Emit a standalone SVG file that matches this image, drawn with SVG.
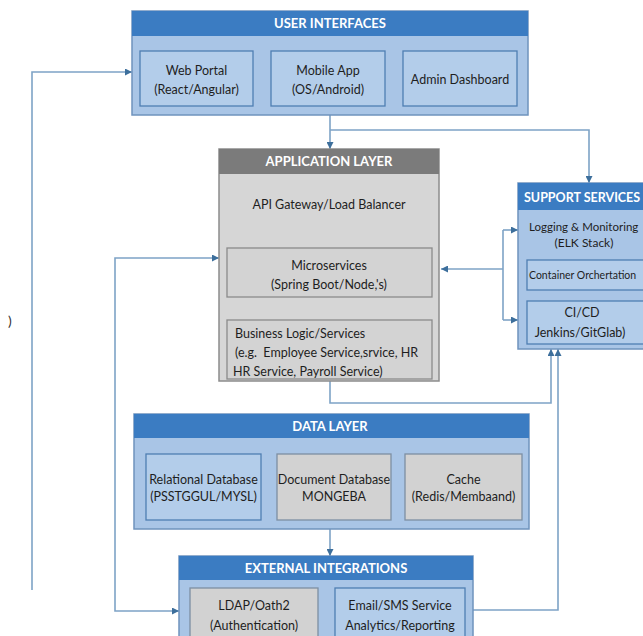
<svg xmlns="http://www.w3.org/2000/svg" width="643" height="636" viewBox="0 0 643 636">
<defs>
<marker id="ah" viewBox="0 0 10 10" refX="10" refY="5" markerWidth="7" markerHeight="7" markerUnits="userSpaceOnUse" orient="auto">
<path d="M0,0 L10,5 L0,10 z" fill="#3d6f9c"/>
</marker>
<style>
.cont{fill:#a9c5e6;stroke:#6f93bd;stroke-width:1.5}
.hdr{fill:#3b7cc2}
.ghdr{fill:#7b7b7b}
.gcont{fill:#d6d6d6;stroke:#8c8c8c;stroke-width:1.5}
.bbox{fill:#b3cdea;stroke:#4f7eb2;stroke-width:1.3}
.gbox{fill:#d2d2d2;stroke:#7d8fa3;stroke-width:1.3}
.gin{fill:#d3d3d3;stroke:#8a8a8a;stroke-width:1.3}
.ht{font-family:Lato,"Open Sans",sans-serif;font-weight:bold;font-size:13px;fill:#ffffff;text-anchor:middle}
.t{font-family:Lato,"Open Sans",sans-serif;font-size:12.5px;fill:#1e1e1e;text-anchor:middle}
.ts{font-family:Lato,"Open Sans",sans-serif;font-size:12.5px;fill:#1e1e1e;text-anchor:start}
.c{fill:none;stroke:#7ea3c6;stroke-width:1.6}
</style>
</defs>
<rect width="643" height="636" fill="#ffffff"/>

<g id="connectors">
<path class="c" d="M32,590 V72 H132" marker-end="url(#ah)"/>
<path class="c" d="M253,79 H271" marker-end="url(#ah)"/>
<path class="c" d="M385,79 H403" marker-end="url(#ah)"/>
<path class="c" d="M330,115 V149" marker-end="url(#ah)"/>
<path class="c" d="M330,130 H589 V183" marker-end="url(#ah)"/>
<path class="c" d="M503,269 H441" marker-end="url(#ah)"/>
<path class="c" d="M503,230 V320"/>
<path class="c" d="M503,230 H518" marker-end="url(#ah)"/>
<path class="c" d="M503,320 H518" marker-end="url(#ah)"/>
<path class="c" d="M115,434 V258 H219" marker-end="url(#ah)"/>
<path class="c" d="M115,434 V611 H179" marker-end="url(#ah)"/>
<path class="c" d="M330,381 V403 H551 V349" marker-end="url(#ah)"/>
<path class="c" d="M473,610 H558 V349" marker-end="url(#ah)"/>
<path class="c" d="M330,529 V556" marker-end="url(#ah)"/>
</g>

<g id="user-interfaces">
<rect class="cont" x="132" y="11" width="396" height="104"/>
<rect class="hdr" x="132" y="11" width="396" height="25"/>
<text class="ht" x="330" y="28">USER INTERFACES</text>
</g>
<g id="web-portal">
<rect class="bbox" x="140" y="51" width="113" height="55"/>
<text class="t" x="196.5" y="75">Web Portal</text>
<text class="t" x="196.5" y="94">(React/Angular)</text>
</g>
<g id="mobile-app">
<rect class="bbox" x="271" y="51" width="114" height="55"/>
<text class="t" x="328" y="75">Mobile App</text>
<text class="t" x="328" y="94">(OS/Android)</text>
</g>
<g id="admin-dashboard">
<rect class="bbox" x="403" y="51" width="114" height="55"/>
<text class="t" x="460" y="84">Admin Dashboard</text>
</g>

<g id="application-layer">
<rect class="gcont" x="219" y="149" width="220" height="232"/>
<rect class="ghdr" x="219" y="149" width="220" height="25"/>
<text class="ht" x="329" y="166">APPLICATION LAYER</text>
<text class="t" x="329" y="209">API Gateway/Load Balancer</text>
</g>
<g id="microservices">
<rect class="gin" x="227" y="248" width="205" height="49"/>
<text class="t" x="329" y="270">Microservices</text>
<text class="t" x="329" y="289">(Spring Boot/Node,'s)</text>
</g>
<g id="business-logic">
<rect class="gin" x="227" y="320" width="205" height="59"/>
<text class="ts" x="235" y="338">Business Logic/Services</text>
<text class="ts" x="235" y="357" xml:space="preserve">(e.g.  Employee Service,srvice, HR</text>
<text class="ts" x="233" y="376">HR Service, Payroll Service)</text>
</g>

<g id="support-services">
<rect class="cont" x="518" y="183" width="140" height="166"/>
<rect class="hdr" x="518" y="183" width="140" height="27"/>
<text class="ht" x="524" y="202" style="text-anchor:start;font-size:12.5px">SUPPORT SERVICES</text>
<text class="ts" x="529" y="231" style="font-size:11.5px">Logging &amp; Monitoring</text>
<text class="t" x="584" y="247" style="font-size:12px">(ELK Stack)</text>
</g>
<g id="container-orchestration">
<rect class="bbox" x="527" y="260" width="130" height="30"/>
<text class="ts" x="529" y="279" style="font-size:10.5px">Container Orchertation</text>
</g>
<g id="cicd">
<rect class="bbox" x="527" y="301" width="130" height="43"/>
<text class="t" x="582" y="317">CI/CD</text>
<text class="t" x="580" y="337">Jenkins/GitGlab)</text>
</g>

<g id="data-layer">
<rect class="cont" x="134" y="414" width="395" height="115"/>
<rect class="hdr" x="134" y="414" width="395" height="24"/>
<text class="ht" x="330" y="431">DATA LAYER</text>
</g>
<g id="relational-db">
<rect class="bbox" x="146" y="454" width="115" height="66"/>
<text class="t" x="203.5" y="484">Relational Database</text>
<text class="t" x="203.5" y="501">(PSSTGGUL/MYSL)</text>
</g>
<g id="document-db">
<rect class="gbox" x="277" y="454" width="114" height="66"/>
<text class="t" x="334" y="484">Document Database</text>
<text class="t" x="334" y="501">MONGEBA</text>
</g>
<g id="cache">
<rect class="gbox" x="405" y="454" width="117" height="66"/>
<text class="t" x="463.5" y="484">Cache</text>
<text class="t" x="463.5" y="501">(Redis/Membaand)</text>
</g>

<g id="external-integrations">
<rect class="cont" x="179" y="556" width="294" height="90"/>
<rect class="hdr" x="179" y="556" width="294" height="24"/>
<text class="ht" x="326" y="573">EXTERNAL INTEGRATIONS</text>
</g>
<g id="ldap">
<rect class="gbox" x="190" y="588" width="128" height="60"/>
<text class="t" x="254" y="610">LDAP/Oath2</text>
<text class="t" x="254" y="630">(Authentication)</text>
</g>
<g id="email-sms">
<rect class="bbox" x="335" y="588" width="130" height="60"/>
<text class="t" x="400" y="610">Email/SMS Service</text>
<text class="t" x="400" y="630">Analytics/Reporting</text>
</g>

<text x="8" y="326" style="font-family:Lato,sans-serif;font-size:14px;fill:#333333">)</text>
</svg>
